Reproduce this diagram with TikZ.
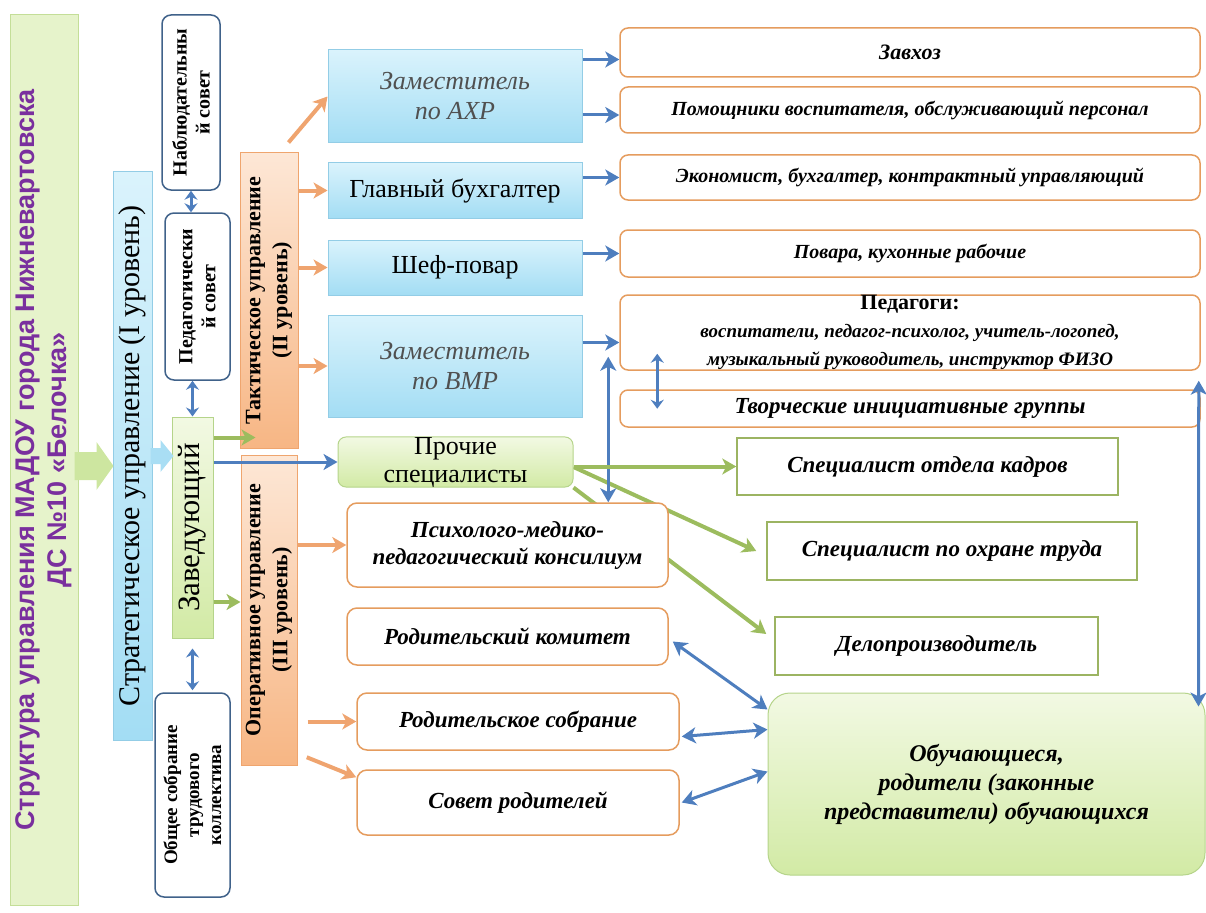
\documentclass[tikz,border=0pt]{standalone}
\usepackage{fontspec}
\setmainfont{Liberation Serif}
\newfontfamily\titlefont{Liberation Sans}
\usetikzlibrary{arrows.meta,backgrounds}

\definecolor{titlegreen}{HTML}{E6F3CB}
\definecolor{titleedge}{HTML}{C4DE98}
\definecolor{topblue}{HTML}{DAF3FC}
\definecolor{barblue}{HTML}{A3DDF4}
\definecolor{edgeblue}{HTML}{93CDE6}
\definecolor{topgreen}{HTML}{F2F9E3}
\definecolor{botgreen}{HTML}{D2EAA5}
\definecolor{edgegreen}{HTML}{B5D48A}
\definecolor{lightpeach}{HTML}{FDE7D6}
\definecolor{peach}{HTML}{F7B684}
\definecolor{edgeorange}{HTML}{EFA56E}
\definecolor{boxorange}{HTML}{E59C5E}
\definecolor{boxgreen}{HTML}{9CB462}
\definecolor{slate}{HTML}{40628A}
\definecolor{linkblue}{HTML}{4E7EBE}
\definecolor{linkorange}{HTML}{EFA46F}
\definecolor{linkgreen}{HTML}{9CBC5E}
\definecolor{titlepurple}{HTML}{7A2F9E}
\definecolor{deputygray}{HTML}{505050}
\definecolor{blockgreen}{HTML}{CDE6A0}
\definecolor{blockblue}{HTML}{A9DEF4}

\begin{document}
\begin{tikzpicture}[x=1pt,y=-1pt,>={Stealth[length=14pt,width=16pt,inset=4pt]},
  every node/.style={inner sep=0pt,align=center},
  upright/.style={rotate=90},
  title bar/.style={upright,draw=titleedge,fill=titlegreen,line width=1pt,text=titlepurple,
    font=\titlefont\bfseries\fontsize{27}{32}\selectfont},
  level bar/.style={upright,draw=edgeblue,line width=1pt,top color=topblue,bottom color=barblue,
    font=\fontsize{30}{32}\selectfont},
  head bar/.style={upright,draw=edgegreen,line width=1pt,top color=topgreen,bottom color=botgreen,
    font=\fontsize{31}{34}\selectfont},
  council/.style={upright,draw=slate,line width=1.5pt,rounded corners=9pt,fill=white,
    font=\bfseries\fontsize{20}{23}\selectfont},
  stage bar/.style={upright,draw=edgeorange,line width=1pt,top color=lightpeach,bottom color=peach,
    font=\bfseries\fontsize{22}{27}\selectfont},
  deputy/.style={draw=edgeblue,line width=1pt,top color=topblue,bottom color=barblue,
    minimum width=254,font=\fontsize{26}{30}\selectfont},
  deputy text/.style={font=\itshape\fontsize{26}{30}\selectfont,text=deputygray},
  staff/.style={draw=boxorange,line width=1.5pt,rounded corners=8pt,fill=white,
    minimum width=580,font=\bfseries\itshape\fontsize{20}{24}\selectfont},
  body/.style={draw=boxorange,line width=1.5pt,rounded corners=10pt,fill=white,
    font=\bfseries\itshape\fontsize{23}{27}\selectfont},
  aide/.style={draw=boxgreen,line width=1.5pt,fill=white,
    font=\bfseries\itshape\fontsize{23}{27}\selectfont},
  misc box/.style={draw=edgegreen,line width=1pt,rounded corners=8pt,top color=topgreen,
    bottom color=botgreen,font=\fontsize{26}{28}\selectfont},
  pupils/.style={draw=edgegreen,line width=1pt,rounded corners=22pt,top color=topgreen,
    bottom color=botgreen,font=\bfseries\itshape\fontsize{24}{29}\selectfont},
  blue link/.style={draw=linkblue,line width=3pt},
  short tips/.style={{Stealth[length=9pt,width=13pt,inset=3pt]}-{Stealth[length=9pt,width=13pt,inset=3pt]}},
  orange link/.style={draw=linkorange,line width=4pt,->},
  green link/.style={draw=linkgreen,line width=4pt,->}]

  \useasboundingbox (0,0) rectangle (1206,912);

  % left column
  \node[title bar,minimum width=890,minimum height=68] (title) at (44,460)
    {Структура управления МАДОУ города Нижневартовска\\ДС №10 «Белочка»};
  \node[level bar,minimum width=568,minimum height=39] (strat) at (132.5,456)
    {Стратегическое управление (I уровень)};
  \node[head bar,minimum width=221,minimum height=41] (zav) at (192.5,527.5) {Заведующий};
  \node[council,minimum width=175,minimum height=58] (nabl) at (191,102.5) {Наблюдательны\\й совет};
  \node[council,minimum width=167,minimum height=65] (pedsov) at (197.5,296.5) {Педагогически\\й совет};
  \node[council,minimum width=204,minimum height=75,font=\bfseries\fontsize{19}{22}\selectfont]
    (obsh) at (192.5,795) {Общее собрание\\трудового\\коллектива};
  \node[stage bar,minimum width=295,minimum height=58] (tact) at (269,300.5)
    {Тактическое управление\\(II уровень)};
  \node[stage bar,minimum width=310,minimum height=56] (oper) at (269,610)
    {Оперативное управление\\(III уровень)};

  % tactical level
  \node[deputy,deputy text,minimum height=93] (axr) at (455,96.5) {Заместитель\\по АХР};
  \node[deputy,minimum height=55] (bux) at (455,190.5) {Главный бухгалтер};
  \node[deputy,minimum height=55] (chef) at (455,267.5) {Шеф-повар};
  \node[deputy,deputy text,minimum height=102] (vmr) at (455,366) {Заместитель\\по ВМР};

  \node[staff,minimum height=49,font=\bfseries\itshape\fontsize{22}{24}\selectfont] (zavhoz) at (910,52.5) {Завхоз};
  \node[staff,minimum height=46] (pomosh) at (910,110) {Помощники воспитателя, обслуживающий персонал};
  \node[staff,minimum height=45] (econ) at (910,177.5) {Экономист, бухгалтер, контрактный управляющий};
  \node[staff,minimum height=47] (povar) at (910,253.5) {Повара, кухонные рабочие};
  \node[staff,minimum height=75,font=\bfseries\itshape\fontsize{19}{28}\selectfont] (teach) at (910,332.5)
    {{\upshape\fontsize{22}{24}\selectfont Педагоги:}\\воспитатели, педагог-психолог, учитель-логопед,\\
     музыкальный руководитель, инструктор ФИЗО};
  \node[staff,minimum height=37,font=\bfseries\itshape\fontsize{23}{26}\selectfont] (tvor) at (910,408.5)
    {Творческие инициативные группы};

  % operative level
  \node[misc box,minimum width=235,minimum height=48] (prochie) at (455.5,462) {Прочие\\специалисты};
  \node[aide,minimum width=381,minimum height=57] (kadry) at (927.5,466.5) {Специалист отдела кадров};
  \node[aide,minimum width=370,minimum height=58] (ohrana) at (952,551) {Специалист по охране труда};
  \node[aide,minimum width=323,minimum height=58] (delo) at (936.5,646) {Делопроизводитель};

  \node[body,minimum width=321,minimum height=84] (ppk) at (507.5,545)
    {Психолого-медико-\\педагогический консилиум};
  \node[body,minimum width=321,minimum height=57] (komitet) at (507.5,636.5) {Родительский комитет};
  \node[body,minimum width=322,minimum height=57] (sobr) at (518,721.5) {Родительское собрание};
  \node[body,minimum width=322,minimum height=65] (sovet) at (518,802.5) {Совет родителей};

  \node[pupils,minimum width=437,minimum height=182] (obuch) at (986.5,784)
    {Обучающиеся,\\родители (законные\\представители) обучающихся};

  % block arrows
  \fill[blockgreen] ([yshift=-6]title.south) ++(-4,-14) -- ++(22,0) -- ++(0,-10) -- ++(17,24)
    -- ++(-17,24) -- ++(0,-10) -- ++(-22,0) -- cycle;
  \fill[blockblue] (strat.south) ++(-2,-8) -- ++(10,0) -- ++(0,-8) -- ++(13,16)
    -- ++(-13,16) -- ++(0,-8) -- ++(-10,0) -- cycle;

  % helper points
  \coordinate (tin) at ([xshift=16,yshift=11]tact.north west);
  \coordinate (oin) at ([yshift=8]oper.north);
  \coordinate (zin) at ([yshift=-7]zavhoz.west);
  \coordinate (pin) at ([yshift=-5]pomosh.west);
  \coordinate (win) at ([yshift=-10]teach.west);
  \coordinate (tup) at ([xshift=-11,yshift=14]teach.south west);

  % councils
  \draw[blue link,short tips] (nabl.west) -- (nabl.west |- pedsov.east);
  \draw[blue link,short tips] (zav.east |- pedsov.west) -- (zav.east);
  \draw[blue link,short tips] ([yshift=-10]zav.west) -- ([yshift=2]obsh.east);

  % head
  \draw[green link] (tin -| zav.south) -- (tin);
  \draw[green link] (oin -| zav.south) -- (oin);
  \draw[blue link,->] (zav.south |- prochie.west) -- (prochie.west);

  % tactical
  \draw[orange link] ([xshift=-10,yshift=10]tact.south east) -- (axr.west);
  \draw[orange link] (tact.south |- bux.west) -- (bux.west);
  \draw[orange link] (tact.south |- chef.west) -- (chef.west);
  \draw[orange link] (tact.south |- vmr.west) -- (vmr.west);

  \draw[blue link,->] (axr.east |- zin) -- (zin);
  \draw[blue link,->] (axr.east |- pin) -- (pin);
  \draw[blue link,->] (bux.east |- econ.west) -- (econ.west);
  \draw[blue link,->] (chef.east |- povar.west) -- (povar.west);
  \draw[blue link,->] (vmr.east |- win) -- (win);

  \draw[blue link,<->] (tup) -- (tup |- ppk.north);
  \draw[blue link,short tips] ([xshift=38,yshift=17]teach.south west) -- ([xshift=38,yshift=19]tvor.south west);
  \draw[blue link,<->] ([xshift=-2,yshift=-10]teach.south east) -- ([xshift=-7,yshift=-14]obuch.north east);

  % operative
  \draw[orange link] (oper.south |- ppk.west) -- (ppk.west);
  \draw[orange link,shorten <=10pt] (oper.south |- sobr.west) -- (sobr.west);
  \draw[orange link,shorten <=10pt] ([yshift=12]oper.south west) -- ([yshift=-8]sovet.north west);

  \draw[green link] (prochie.east |- kadry.west) -- (kadry.west);
  \begin{pgfonlayer}{background}
    \draw[green link] ([yshift=-5]prochie.east) -- ([xshift=-10]ohrana.west);
    \draw[green link] (prochie.south east) -- ([xshift=-8,yshift=12]delo.west);
  \end{pgfonlayer}

  \draw[blue link,<->] ([xshift=4,yshift=-5]komitet.east) -- ([yshift=-17]obuch.north west);
  \draw[blue link,<->] ([xshift=2,yshift=-15]sobr.east) -- ([yshift=-37]obuch.north west);
  \draw[blue link,<->] ([xshift=2]sovet.east) -- ([yshift=-79]obuch.north west);
\end{tikzpicture}
\end{document}
